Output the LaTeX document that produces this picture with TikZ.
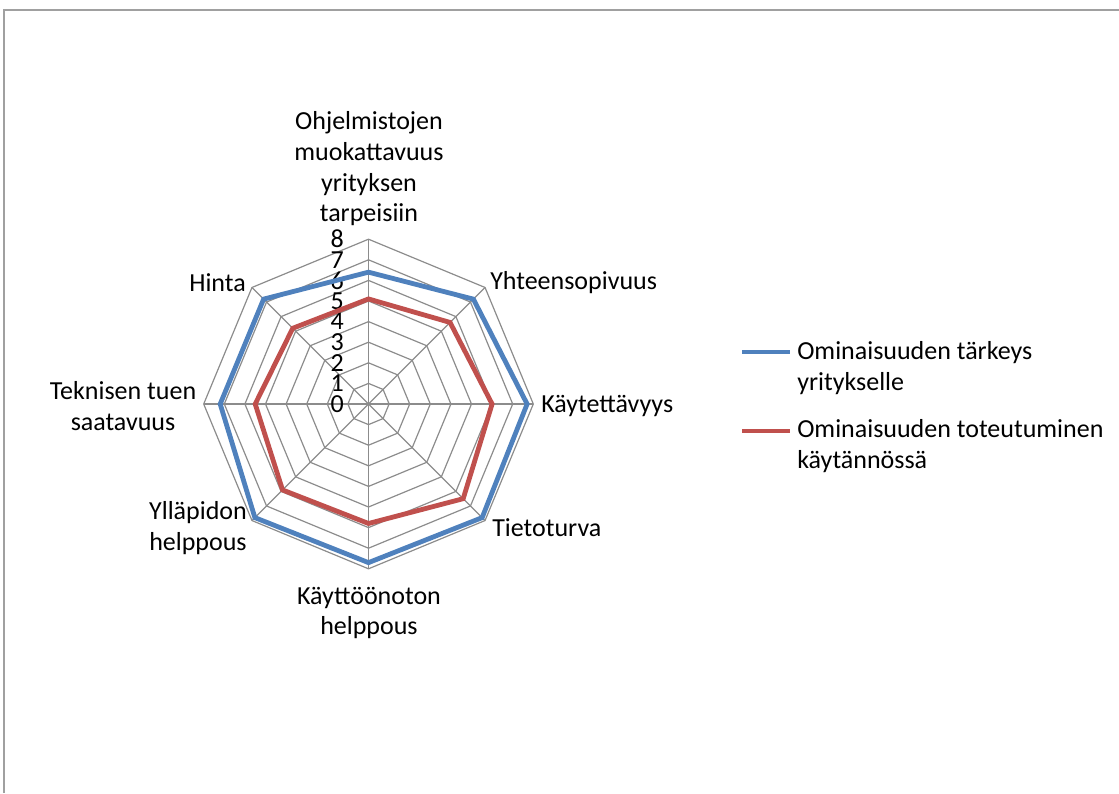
\documentclass[tikz,border=0pt]{standalone}
\usepackage{fontspec}
\setmainfont{Carlito}
\definecolor{seriesblue}{HTML}{4F81BD}
\definecolor{seriesred}{HTML}{C0504D}
\definecolor{gridgray}{HTML}{8C8C8C}
\definecolor{framegray}{HTML}{A0A0A0}
\begin{document}
\begin{tikzpicture}[x=0.75pt,y=-0.75pt,
  lbl/.style={font=\fontsize{19.5}{23}\selectfont, inner sep=0pt, align=center, text=black},
  gridline/.style={gridgray, line width=0.9pt},
  seriesline/.style={line width=3.6pt, line join=miter}]
\useasboundingbox (0,0) rectangle (1119,793);
% chart area frame (top and left edges)
\draw[framegray, line width=1.1pt] (4,793) -- (4,10) -- (1119,10);

\def\u{20.6}
\begin{scope}[shift={(368.5,404)}]
  % concentric octagons for levels 1..8
  \foreach \lv in {1,...,8} {
    \draw[gridline] (-90:\lv*\u) -- (-45:\lv*\u) -- (0:\lv*\u) -- (45:\lv*\u)
      -- (90:\lv*\u) -- (135:\lv*\u) -- (180:\lv*\u) -- (225:\lv*\u) -- cycle;
  }
  % spokes
  \foreach \k in {0,...,7} \draw[gridline] (0,0) -- ({45*\k-90}:8*\u);
  % axis scale 0..8
  \foreach \n in {0,...,8} \node[lbl, anchor=east] (tick\n) at (-24.5,-\n*\u) {\n};
  % series: importance
  \foreach \v [count=\i from 0] in {6.4,7.2,7.7,7.8,7.7,7.8,7.2,7.2}
    \coordinate (b\i) at ({45*\i-90}:\v*\u);
  % series: realisation
  \foreach \v [count=\i from 0] in {5.1,5.6,6.0,6.5,5.8,5.9,5.5,5.2}
    \coordinate (r\i) at ({45*\i-90}:\v*\u);
  \draw[seriesline, seriesred] (r0) -- (r1) -- (r2) -- (r3) -- (r4) -- (r5) -- (r6) -- (r7) -- cycle;
  \draw[seriesline, seriesblue] (b0) -- (b1) -- (b2) -- (b3) -- (b4) -- (b5) -- (b6) -- (b7) -- cycle;
\end{scope}

% category labels
\node[lbl] (catA) at (369,169) {Ohjelmistojen\\muokattavuus\\yrityksen\\tarpeisiin};
\node[lbl, anchor=west] (catB) at (490,283) {Yhteensopivuus};
\node[lbl, anchor=west] (catC) at (541,406) {Käytettävyys};
\node[lbl, anchor=west] (catD) at (492,528) {Tietoturva};
\node[lbl] (catE) at (369,613) {Käyttöönoton\\helppous};
\node[lbl] (catF) at (198,528) {Ylläpidon\\helppous};
\node[lbl] (catG) at (123,406) {Teknisen tuen\\saatavuus};
\node[lbl, anchor=east] (catH) at (246,283) {Hinta};

% legend
\node[lbl, anchor=west, align=left] (legA) at (797,368) {Ominaisuuden tärkeys\\yritykselle};
\node[lbl, anchor=west, align=left] (legB) at (797,446) {Ominaisuuden toteutuminen\\käytännössä};
\draw[seriesline, seriesblue] (742,352) -- (790,352);
\draw[seriesline, seriesred] (742,431) -- (790,431);
\end{tikzpicture}
\end{document}
